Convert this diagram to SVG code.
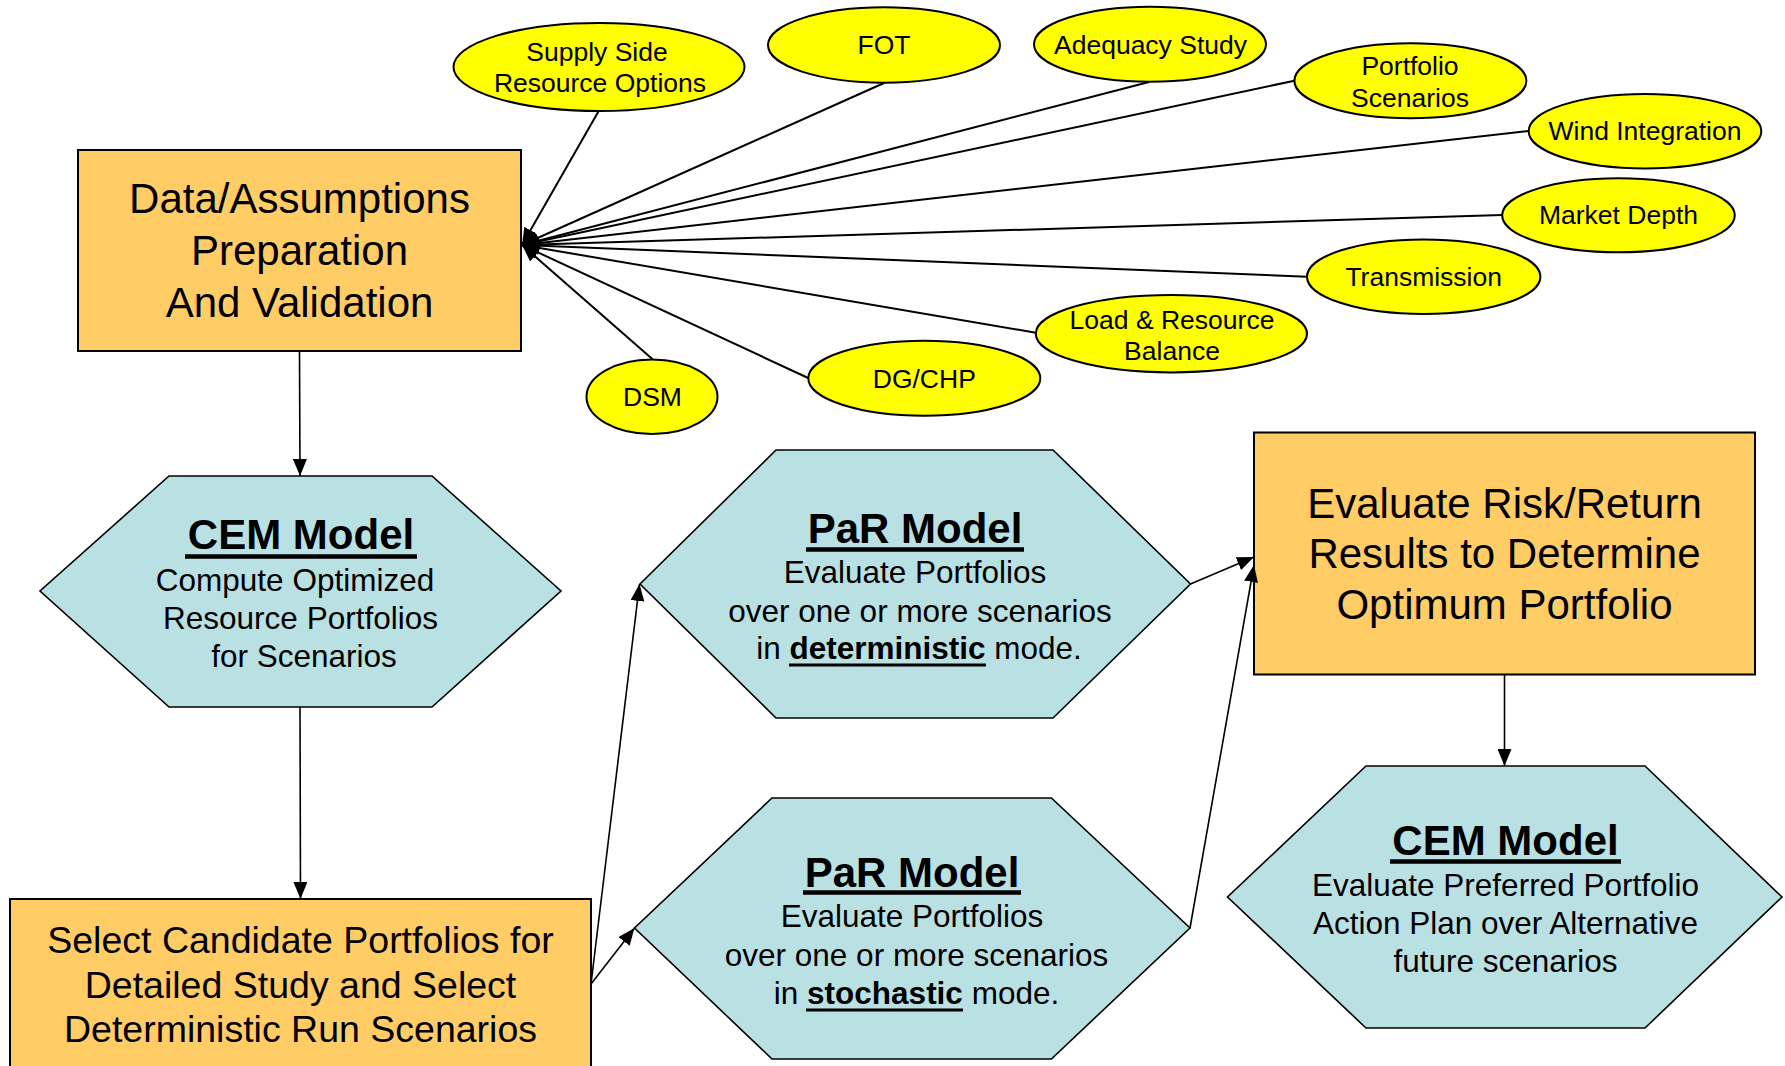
<svg xmlns="http://www.w3.org/2000/svg" width="1785" height="1066" viewBox="0 0 1785 1066">
<style>
text{font-family:"Liberation Sans",Arial,sans-serif;fill:#000;text-anchor:middle}
.box{fill:#FFCC66;stroke:#000;stroke-width:2}
.hex{fill:#B9E0E3;stroke:#000;stroke-width:1.6}
.ell{fill:#FFFF00;stroke:#000;stroke-width:2}
.el{font-size:26.5px}
.big{font-size:42px}
.sel{font-size:37.5px}
.ttl{font-size:42px;font-weight:bold}
.body{font-size:31.5px}
.b{font-weight:bold}
.ul{stroke:#000;stroke-width:4.5}
.ul2{stroke:#000;stroke-width:3}
.c{fill:none;stroke:#000;stroke-width:2;marker-end:url(#arr)}
.m{fill:none;stroke:#000;stroke-width:1.6;marker-end:url(#arr)}
</style>
<defs>
<marker id="arr" markerWidth="18" markerHeight="14" refX="17" refY="7" orient="auto" markerUnits="userSpaceOnUse">
<path d="M0,0 L17,7 L0,14 z" fill="#000"/>
</marker>
</defs>
<rect width="1785" height="1066" fill="#fff"/>

<g id="data-box">
<rect class="box" x="78" y="150" width="443" height="201"/>
<text class="big" x="299.5" y="213">Data/Assumptions</text>
<text class="big" x="299.5" y="265">Preparation</text>
<text class="big" x="299.5" y="316.5">And Validation</text>
</g>

<g id="supply-side">
<ellipse class="ell" cx="599" cy="67" rx="145.5" ry="44"/>
<text class="el" x="597" y="61">Supply Side</text>
<text class="el" x="600" y="92">Resource Options</text>
</g>
<g id="fot">
<ellipse class="ell" cx="884" cy="45" rx="116" ry="37.7"/>
<text class="el" x="884" y="54">FOT</text>
</g>
<g id="adequacy">
<ellipse class="ell" cx="1150" cy="44.2" rx="116" ry="37.5"/>
<text class="el" x="1150.5" y="53.5">Adequacy Study</text>
</g>
<g id="portfolio-scenarios">
<ellipse class="ell" cx="1410.4" cy="80.8" rx="116" ry="37.5"/>
<text class="el" x="1410" y="75">Portfolio</text>
<text class="el" x="1410" y="106.5">Scenarios</text>
</g>
<g id="wind">
<ellipse class="ell" cx="1645" cy="131.2" rx="116.3" ry="37.2"/>
<text class="el" x="1645" y="140">Wind Integration</text>
</g>
<g id="market-depth">
<ellipse class="ell" cx="1618.5" cy="215.3" rx="116.3" ry="37"/>
<text class="el" x="1618.5" y="224">Market Depth</text>
</g>
<g id="transmission">
<ellipse class="ell" cx="1423.7" cy="276.7" rx="116.7" ry="37.3"/>
<text class="el" x="1423.7" y="286">Transmission</text>
</g>
<g id="load-resource">
<ellipse class="ell" cx="1171.4" cy="333.7" rx="135.6" ry="38.7"/>
<text class="el" x="1172" y="328.5">Load &amp; Resource</text>
<text class="el" x="1172" y="359.5">Balance</text>
</g>
<g id="dgchp">
<ellipse class="ell" cx="924.3" cy="378.2" rx="116" ry="37.5"/>
<text class="el" x="924.3" y="387.5">DG/CHP</text>
</g>
<g id="dsm">
<ellipse class="ell" cx="652" cy="396.7" rx="65.5" ry="37.3"/>
<text class="el" x="652.5" y="406">DSM</text>
</g>

<g id="cem-compute">
<polygon class="hex" points="169,476 432,476 561,591 432,707 169,707 40,591"/>
<text class="ttl" x="301" y="549">CEM Model</text>
<line class="ul" x1="185" y1="556.5" x2="417" y2="556.5"/>
<text class="body" x="295" y="590.5">Compute Optimized</text>
<text class="body" x="300.5" y="629">Resource Portfolios</text>
<text class="body" x="304" y="666.5">for Scenarios</text>
</g>

<g id="select-box">
<rect class="box" x="10" y="899" width="581" height="190"/>
<text class="sel" x="300.5" y="952.5">Select Candidate Portfolios for</text>
<text class="sel" x="300.5" y="997.5">Detailed Study and Select</text>
<text class="sel" x="300.5" y="1042">Deterministic Run Scenarios</text>
</g>

<g id="par-deterministic">
<polygon class="hex" points="776,450 1053,450 1190.5,584 1053,718 776,718 640,584"/>
<text class="ttl" x="915" y="542.5">PaR Model</text>
<line class="ul" x1="806" y1="549.5" x2="1024" y2="549.5"/>
<text class="body" x="915" y="583">Evaluate Portfolios</text>
<text class="body" x="920" y="621.5">over one or more scenarios</text>
<text class="body" x="919" y="659">in <tspan class="b">deterministic</tspan> mode.</text>
<line class="ul2" x1="789" y1="665" x2="986" y2="665"/>
</g>

<g id="par-stochastic">
<polygon class="hex" points="772,798 1051.4,798 1190,928 1051.4,1059 772,1059 634.5,928"/>
<text class="ttl" x="912" y="886.5">PaR Model</text>
<line class="ul" x1="803" y1="892.5" x2="1021" y2="892.5"/>
<text class="body" x="912" y="927">Evaluate Portfolios</text>
<text class="body" x="916.5" y="965.5">over one or more scenarios</text>
<text class="body" x="916.5" y="1004">in <tspan class="b">stochastic</tspan> mode.</text>
<line class="ul2" x1="806" y1="1010" x2="963" y2="1010"/>
</g>

<g id="evaluate-box">
<rect class="box" x="1254" y="432.5" width="501" height="242"/>
<text class="big" x="1504.5" y="518">Evaluate Risk/Return</text>
<text class="big" x="1504.5" y="568">Results to Determine</text>
<text class="big" x="1504.5" y="618.5">Optimum Portfolio</text>
</g>

<g id="cem-evaluate">
<polygon class="hex" points="1366,766 1645,766 1782,897 1645,1028 1366,1028 1227.5,897"/>
<text class="ttl" x="1505.5" y="854.5">CEM Model</text>
<line class="ul" x1="1390" y1="861.5" x2="1621" y2="861.5"/>
<text class="body" x="1505.5" y="896">Evaluate Preferred Portfolio</text>
<text class="body" x="1505.5" y="934">Action Plan over Alternative</text>
<text class="body" x="1505.5" y="972">future scenarios</text>
</g>

<g id="connectors">
<line class="c" x1="598.7" y1="111" x2="522" y2="245"/>
<line class="c" x1="884" y1="83" x2="522" y2="245"/>
<line class="c" x1="1149" y1="82" x2="522" y2="245"/>
<line class="c" x1="1294.4" y1="80.7" x2="522" y2="245"/>
<line class="c" x1="1528.7" y1="131" x2="522" y2="245"/>
<line class="c" x1="1502.2" y1="215" x2="522" y2="245"/>
<line class="c" x1="1307" y1="276.7" x2="522" y2="245"/>
<line class="c" x1="1035.8" y1="332.7" x2="522" y2="245"/>
<line class="c" x1="808.2" y1="378" x2="522" y2="245"/>
<line class="c" x1="652.6" y1="359.3" x2="522" y2="245"/>
<line class="m" x1="299.5" y1="351" x2="300" y2="476"/>
<line class="m" x1="300" y1="707" x2="300.5" y2="899"/>
<line class="m" x1="591" y1="984" x2="639.5" y2="584"/>
<line class="m" x1="591" y1="984" x2="634.5" y2="928"/>
<line class="m" x1="1190.5" y1="584" x2="1254" y2="557"/>
<line class="m" x1="1190" y1="928" x2="1254" y2="565"/>
<line class="m" x1="1504.5" y1="674.5" x2="1504.5" y2="766"/>
</g>
</svg>
